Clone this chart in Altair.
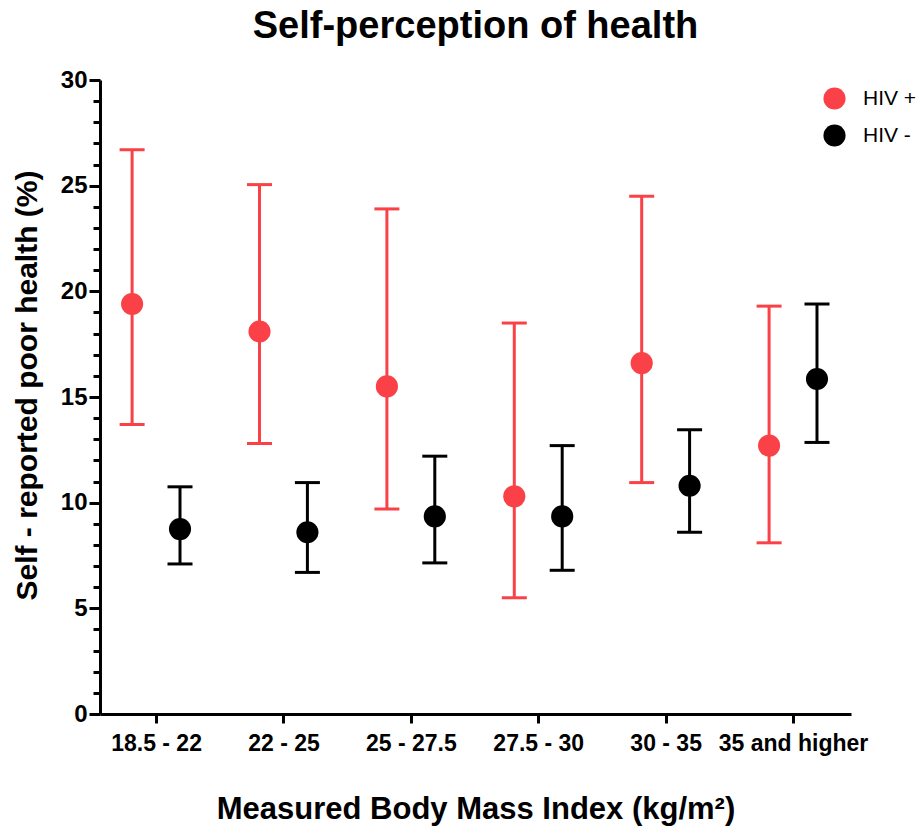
import json
import altair as alt
import pandas as pd

# BMI categories and self-reported poor health (%) with 95% CI, by HIV status
categories = ["18.5 - 22", "22 - 25", "25 - 27.5", "27.5 - 30", "30 - 35", "35 and higher"]
groups = ["HIV +", "HIV -"]

hiv_pos_mean = [19.4, 18.1, 15.5, 10.3, 16.6, 12.7]
hiv_pos_low = [13.7, 12.8, 9.7, 5.5, 10.95, 8.1]
hiv_pos_high = [26.7, 25.05, 23.9, 18.5, 24.5, 19.3]

hiv_neg_mean = [8.75, 8.6, 9.35, 9.35, 10.8, 15.85]
hiv_neg_low = [7.1, 6.7, 7.15, 6.8, 8.6, 12.85]
hiv_neg_high = [10.75, 10.95, 12.2, 12.7, 13.45, 19.4]

RED = "#F94147"
FONT = "Liberation Sans"

rows = []
for grp, means, lows, highs in [
    ("HIV +", hiv_pos_mean, hiv_pos_low, hiv_pos_high),
    ("HIV -", hiv_neg_mean, hiv_neg_low, hiv_neg_high),
]:
    for i, cat in enumerate(categories):
        rows.append({"idx": i, "category": cat, "group": grp,
                     "mean": means[i], "low": lows[i], "high": highs[i]})
df = pd.DataFrame(rows)

# dodge the two groups either side of each category tick
base = alt.Chart(df).transform_calculate(
    xpos="datum.idx + (datum.group === 'HIV +' ? -0.188 : 0.188)"
)

label_expr = json.dumps(categories) + "[datum.value]"

x_scale = alt.Scale(domain=[-0.44, 5.455], nice=False, zero=False)
x_axis = alt.Axis(
    values=list(range(len(categories))),
    labelExpr=label_expr,
    title="Measured Body Mass Index (kg/m²)",
    titleFontSize=31, titleFontWeight="bold", titlePadding=39,
    labelFontSize=23, labelFontWeight="bold", labelPadding=9,
    tickSize=9, tickWidth=3, tickColor="black",
    domainWidth=3, domainColor="black", labelColor="black",
    grid=False, labelFlush=False, labelOverlap=False,
)

y_scale = alt.Scale(domain=[0, 30], nice=False)
y_axis = alt.Axis(
    values=list(range(0, 31)),
    labelExpr="datum.value % 5 === 0 ? datum.label : ''",
    labelOverlap=False,
    tickSize={"condition": {"test": "datum.value % 5 === 0", "value": 11}, "value": 7},
    title="Self - reported poor health (%)",
    titleFontSize=30, titleFontWeight="bold", titlePadding=18, titleY=305,
    labelFontSize=24, labelFontWeight="bold", labelPadding=2,
    tickWidth=3, tickColor="black", domainWidth=3, domainColor="black",
    labelColor="black", grid=False,
)

color_enc = alt.Color(
    "group:N",
    scale=alt.Scale(domain=groups, range=[RED, "black"]),
    legend=alt.Legend(
        title=None, orient="none", legendX=723, legendY=7,
        symbolType="circle", symbolSize=490, symbolStrokeWidth=0,
        symbolOpacity=1, labelFontSize=21, labelFont=FONT,
        labelColor="black", labelOffset=17, rowPadding=14, padding=0,
    ),
)

x_enc = alt.X("xpos:Q", scale=x_scale, axis=x_axis)


def y_enc(field):
    return alt.Y(f"{field}:Q", scale=y_scale, axis=y_axis)


rules = base.mark_rule(strokeWidth=3).encode(
    x=x_enc, y=y_enc("low"), y2="high:Q", color=color_enc,
)

caps_low = base.mark_tick(thickness=3, size=25, orient="horizontal", opacity=1).encode(
    x=x_enc, y=y_enc("low"), color=color_enc,
)
caps_high = base.mark_tick(thickness=3, size=25, orient="horizontal", opacity=1).encode(
    x=x_enc, y=y_enc("high"), color=color_enc,
)

points = base.mark_circle(size=490, opacity=1).encode(
    x=x_enc, y=y_enc("mean"), color=color_enc,
)

chart = alt.layer(rules, caps_low, caps_high, points).properties(
    width=751, height=634,
    title=alt.TitleParams(
        "Self-perception of health", fontSize=38, fontWeight="bold",
        font=FONT, color="black", anchor="middle", offset=22,
    ),
    autosize=alt.AutoSizeParams(type="none"),
    padding={"left": 100, "top": 80, "right": 71, "bottom": 112},
).configure(
    font=FONT,
).configure_view(
    stroke=None,
).configure_axis(
    labelFont=FONT, titleFont=FONT, titleColor="black", labelOverlap=False,
)

chart.save("out.html", embed_options={"renderer": "svg", "actions": False})
